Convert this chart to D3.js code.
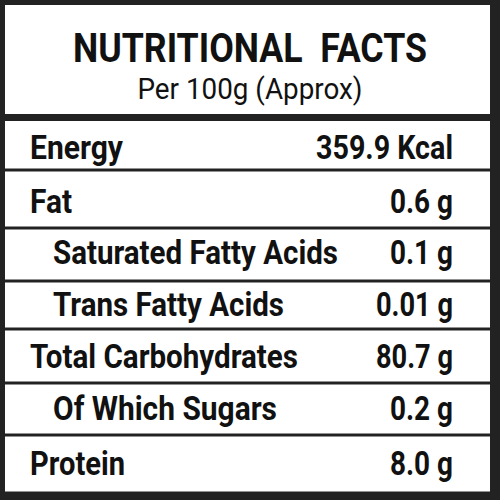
<!DOCTYPE html>
<html><head><meta charset="utf-8">
<script src="https://cdn.jsdelivr.net/npm/d3@7"></script>
<style>body{margin:0;background:#fff}</style></head>
<body><svg id="c" width="500" height="500"></svg>
<script>
const title = "NUTRITIONAL  FACTS";
const subtitle = "Per 100g (Approx)";
const nutrients = ["Energy","Fat","Saturated Fatty Acids","Trans Fatty Acids","Total Carbohydrates","Of Which Sugars","Protein"];
const amounts = ["359.9 Kcal","0.6 g","0.1 g","0.01 g","80.7 g","0.2 g","8.0 g"];
const indented = [false,false,true,true,false,true,false];

const labelW = [93,42,285,231,268,224,95];
const valueW = [137,63,63,77,77,63,63];

const svg = d3.select("#c");
const F = "'Liberation Sans Narrow','Arial Narrow',Roboto,sans-serif";
svg.append("rect").attr("width",500).attr("height",500).attr("fill","#222");
svg.append("rect").attr("x",5).attr("y",5).attr("width",485).attr("height",109).attr("fill","#fff");
const bounds = [121,170,228,281,329,383,435,493];
nutrients.forEach((n,i)=>{
  svg.append("rect").attr("x",5).attr("y",bounds[i]+(i?1.5:0)).attr("width",485)
    .attr("height",bounds[i+1]-bounds[i]-(i?1.5:0)-1.5).attr("fill","#fff");
});
const baselines = [159,213,264,316,368,420,475];
const g = svg.append("g").attr("font-family",F).attr("font-weight","bold").attr("fill","#111");
g.append("text").attr("x",250).attr("y",62).attr("text-anchor","middle").attr("font-size",40)
  .attr("textLength",354).attr("lengthAdjust","spacingAndGlyphs").style("white-space","pre").text(title);
svg.append("text").attr("x",250).attr("y",99).attr("text-anchor","middle").attr("font-family",F)
  .attr("font-size",29).attr("fill","#111").attr("textLength",225).attr("lengthAdjust","spacingAndGlyphs").text(subtitle);
nutrients.forEach((n,i)=>{
  g.append("text").attr("x",indented[i]?53:30).attr("y",baselines[i]).attr("font-size",33)
    .attr("textLength",labelW[i]).attr("lengthAdjust","spacingAndGlyphs").text(n);
  g.append("text").attr("x",453).attr("y",baselines[i]).attr("font-size",33).attr("text-anchor","end")
    .attr("textLength",valueW[i]).attr("lengthAdjust","spacingAndGlyphs").text(amounts[i]);
});
</script></body></html>
